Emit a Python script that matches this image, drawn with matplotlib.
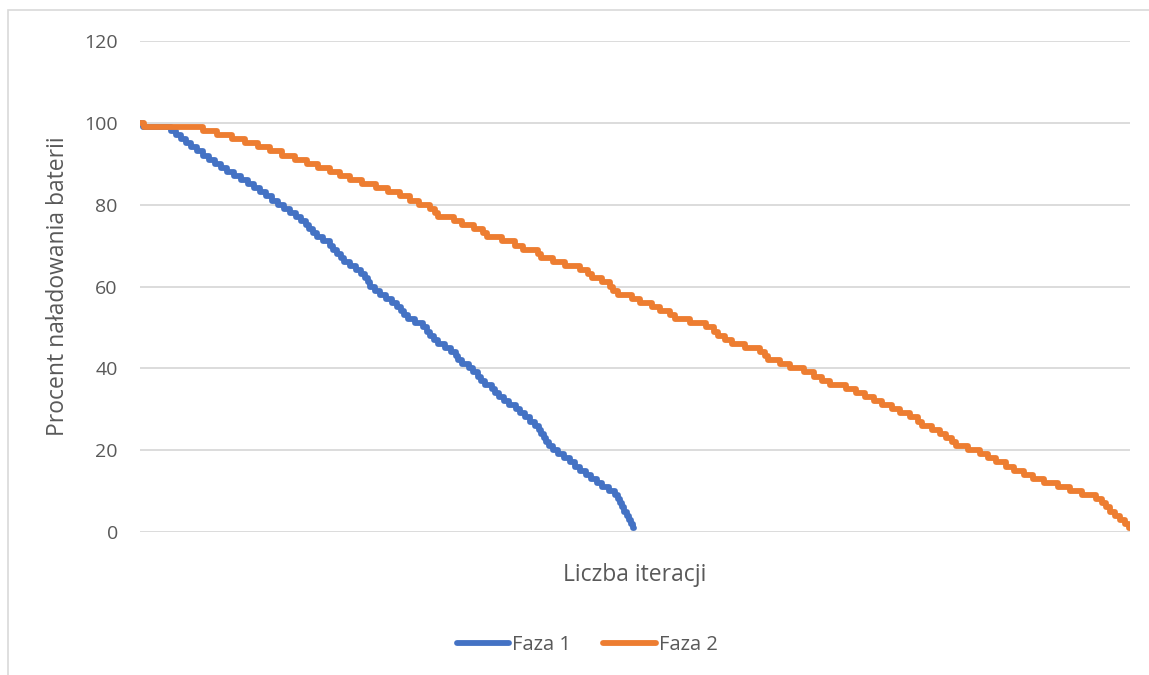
import numpy as np
import matplotlib.pyplot as plt
from matplotlib.patches import Rectangle

# battery level (percent) and the iteration at which each level begins
levels = list(range(100, 0, -1))

faza1_start = [
    0, 3, 31, 36, 41, 46, 51, 57, 63, 69,
    75, 81, 87, 94, 101, 108, 114, 120, 126, 132,
    138, 144, 150, 156, 161, 166, 169, 173, 177, 183,
    190, 193, 197, 201, 204, 210, 216, 221, 225, 228,
    230, 235, 240, 246, 252, 257, 261, 264, 268, 275,
    283, 287, 290, 294, 298, 305, 311, 316, 318, 322,
    329, 333, 338, 341, 345, 352, 355, 359, 364, 369,
    376, 380, 385, 390, 395, 399, 401, 404, 406, 409,
    413, 418, 424, 430, 435, 440, 446, 451, 457, 462,
    469, 475, 478, 480, 482, 484, 487, 489, 491, 493,
]
faza1_end = 494

faza2_start = [
    0, 4, 63, 77, 92, 105, 118, 130, 142, 155,
    167, 178, 190, 200, 210, 222, 236, 248, 260, 270,
    279, 290, 295, 298, 314, 322, 334, 343, 347, 362,
    375, 383, 398, 401, 413, 425, 440, 448, 452, 462,
    470, 473, 478, 492, 500, 512, 520, 530, 535, 550,
    566, 574, 578, 585, 592, 605, 620, 625, 628, 640,
    650, 664, 674, 682, 690, 706, 716, 725, 734, 742,
    752, 760, 770, 778, 782, 792, 800, 806, 812, 816,
    828, 840, 848, 856, 866, 874, 884, 893, 904, 918,
    930, 942, 956, 962, 966, 970, 975, 980, 985, 989,
]
faza2_end = 990

blue = '#4472C4'
orange = '#ED7D31'
grid_color = '#D9D9D9'
text_color = '#595959'

plt.rcParams['font.family'] = ['Open Sans', 'DejaVu Sans']

fig = plt.figure(figsize=(11.49, 6.75), dpi=100)
fig.patch.set_facecolor('white')

# chart border
fig.patches.append(Rectangle((8 / 1149, -0.1), 1.2, (675 - 10) / 675 + 0.1,
                             transform=fig.transFigure, fill=False,
                             edgecolor=grid_color, linewidth=1.2))

ax = fig.add_axes([140 / 1149, (675 - 532) / 675, 990 / 1149, (532 - 41) / 675])


def staircase(starts, end):
    x = np.append(starts, end)
    y = np.append(levels, levels[-1])
    return x, y


x1, y1 = staircase(faza1_start, faza1_end)
x2, y2 = staircase(faza2_start, faza2_end)

ax.step(x1, y1, where='post', color=blue, linewidth=4.2,
        solid_joinstyle='round', solid_capstyle='round', label='Faza 1', zorder=3)
ax.step(x2, y2, where='post', color=orange, linewidth=4.2,
        solid_joinstyle='round', solid_capstyle='round', label='Faza 2', zorder=3)

ax.set_xlim(0, 990)
ax.set_ylim(0, 120)
ax.set_yticks(range(0, 121, 20))
ax.set_xticks([])
ax.grid(axis='y', color=grid_color, linewidth=1.3)
ax.set_axisbelow(True)
for s in ax.spines.values():
    s.set_visible(False)
ax.tick_params(axis='y', length=0, pad=16, labelsize=14, labelcolor=text_color)

ax.set_ylabel('Procent naładowania baterii', fontsize=16.5, color=text_color, labelpad=10)
ax.set_xlabel('Liczba iteracji', fontsize=16.5, color=text_color, labelpad=22)

ax.legend(loc='center', bbox_to_anchor=(587 / 1149, (675 - 645) / 675),
          bbox_transform=fig.transFigure, ncol=2, frameon=False,
          fontsize=14.5, labelcolor=text_color, handlelength=2.6,
          handletextpad=0.15, columnspacing=1.6)

fig.savefig('out.png', dpi=100, facecolor='white')
